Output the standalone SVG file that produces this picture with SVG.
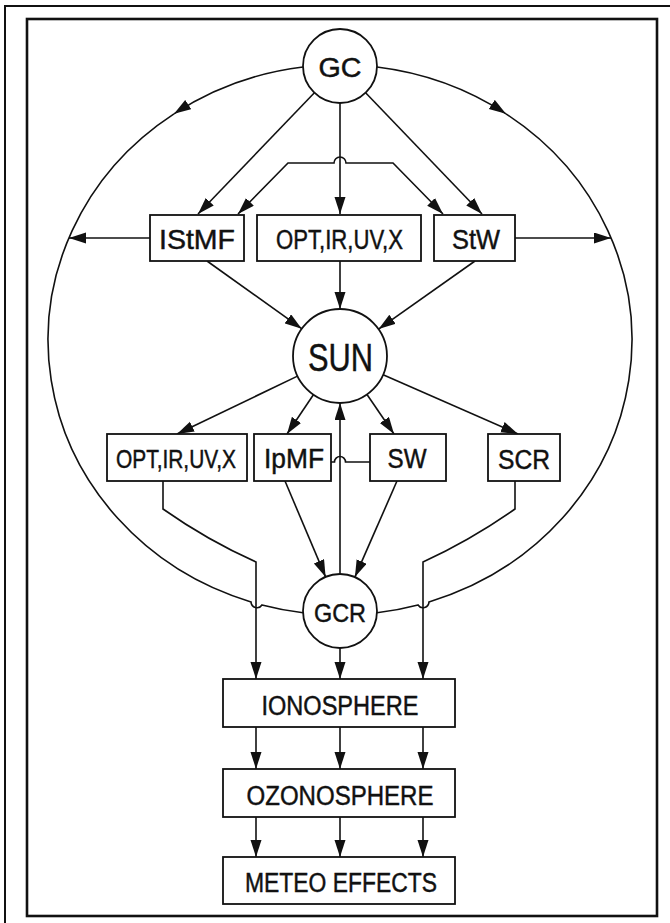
<svg xmlns="http://www.w3.org/2000/svg" width="670" height="923" viewBox="0 0 670 923">
  <defs>
    <marker id="ah" markerUnits="userSpaceOnUse" markerWidth="18" markerHeight="12" refX="17" refY="5.5" orient="auto-start-reverse">
      <path d="M0,0 L17,5.5 L0,11 Z" fill="#111"/>
    </marker>
    <style>
      .frame { fill: none; stroke: #111; }
      .box { fill: #fff; stroke: #111; stroke-width: 1.8; }
      .node { fill: #fff; stroke: #111; stroke-width: 1.8; }
      .ln { fill: none; stroke: #111; stroke-width: 1.6; }
      .arr { fill: none; stroke: #111; stroke-width: 1.6; marker-end: url(#ah); }
      .lbl { font-family: "Liberation Sans", Arial, sans-serif; text-anchor: middle; fill: #111; stroke: #111; stroke-width: 0.45; }
    </style>
  </defs>

  <rect width="670" height="923" fill="#fff"/>

  <!-- double frame -->
  <rect class="frame" x="5" y="6" width="690" height="940" stroke-width="2"/>
  <rect class="frame" x="27" y="19" width="630" height="897" stroke-width="2.6"/>

  <!-- connectors -->
  <g id="connectors">
    <!-- outer loop GC -> GCR, left and right halves -->
    <path class="arr" d="M303,67 A292,275 0 0 0 174,113.8"/>
    <path class="ln" d="M174,113.8 A292,275 0 0 0 251,601.9 A6,6 0 0 0 262,605 A292,275 0 0 0 303,612.8"/>
    <path class="arr" d="M377,67 A292,275 0 0 1 506,113.8"/>
    <path class="ln" d="M506,113.8 A292,275 0 0 1 429,601.9 A6,6 0 0 1 418,605 A292,275 0 0 1 377,612.8"/>

    <!-- side outputs -->
    <path class="arr" d="M150,238 H69"/>
    <path class="arr" d="M515,238 H611"/>

    <!-- GC to upper row -->
    <path class="arr" d="M314.4,92.7 L198,214"/>
    <path class="arr" d="M340,103 V214"/>
    <path class="arr" d="M365.6,92.7 L482,214"/>
    <path class="ln" d="M238,214 L288,163 H334 A6,6 0 0 1 346,163 H393 L443,214" marker-start="url(#ah)" marker-end="url(#ah)"/>

    <!-- upper row to SUN -->
    <path class="arr" d="M207,261 L301.7,328.7"/>
    <path class="arr" d="M340,261 V309"/>
    <path class="arr" d="M475,261 L378.6,329.1"/>

    <!-- SUN to lower row -->
    <path class="arr" d="M297.5,376.1 L177,434"/>
    <path class="arr" d="M313.4,394.7 L287,434"/>
    <path class="arr" d="M367,394.5 L394,434"/>
    <path class="arr" d="M383.1,374.7 L518,434"/>

    <!-- GCR back to SUN -->
    <path class="arr" d="M340,574 V403"/>

    <!-- IpMF - SW link with hop -->
    <path class="ln" d="M331,462 H334.5 A5.5,5.5 0 0 1 345.5,462 H370"/>

    <!-- lower row to GCR -->
    <path class="arr" d="M285,481 L325.6,576.9"/>
    <path class="arr" d="M397,481 L354.9,577.1"/>

    <!-- into the ionosphere -->
    <path class="arr" d="M163,481 V509 Q207,540 256,562 V679"/>
    <path class="arr" d="M515,481 V509 Q471,540 423,562 V679"/>
    <path class="arr" d="M340,648 V679"/>

    <!-- ionosphere -> ozonosphere -> meteo -->
    <path class="arr" d="M256,727 V769"/>
    <path class="arr" d="M340,727 V769"/>
    <path class="arr" d="M423,727 V769"/>
    <path class="arr" d="M256,817 V857"/>
    <path class="arr" d="M340,817 V857"/>
    <path class="arr" d="M423,817 V857"/>
  </g>

  <!-- nodes -->
  <g id="gc">
    <circle class="node" cx="340" cy="66" r="37"/>
    <text class="lbl" x="340" y="77" font-size="28" textLength="43" lengthAdjust="spacingAndGlyphs">GC</text>
  </g>

  <g id="istmf">
    <rect class="box" x="150" y="215" width="94" height="46"/>
    <text class="lbl" x="197" y="249" font-size="28" textLength="76" lengthAdjust="spacingAndGlyphs">IStMF</text>
  </g>
  <g id="opt-upper">
    <rect class="box" x="257" y="215" width="164" height="46"/>
    <text class="lbl" x="339.5" y="249" font-size="27" textLength="127" lengthAdjust="spacingAndGlyphs">OPT,IR,UV,X</text>
  </g>
  <g id="stw">
    <rect class="box" x="434" y="215" width="81" height="46"/>
    <text class="lbl" x="476" y="249" font-size="28" textLength="48" lengthAdjust="spacingAndGlyphs">StW</text>
  </g>

  <g id="sun">
    <circle class="node" cx="340" cy="356" r="47"/>
    <text class="lbl" x="340.5" y="371" font-size="38" textLength="65" lengthAdjust="spacingAndGlyphs">SUN</text>
  </g>

  <g id="opt-lower">
    <rect class="box" x="107" y="434" width="140" height="47"/>
    <text class="lbl" x="176" y="468" font-size="25" textLength="120" lengthAdjust="spacingAndGlyphs">OPT,IR,UV,X</text>
  </g>
  <g id="ipmf">
    <rect class="box" x="254" y="434" width="77" height="47"/>
    <text class="lbl" x="294" y="468" font-size="27" textLength="60" lengthAdjust="spacingAndGlyphs">IpMF</text>
  </g>
  <g id="sw">
    <rect class="box" x="370" y="434" width="76" height="47"/>
    <text class="lbl" x="407" y="468" font-size="27" textLength="39" lengthAdjust="spacingAndGlyphs">SW</text>
  </g>
  <g id="scr">
    <rect class="box" x="488" y="434" width="72" height="47"/>
    <text class="lbl" x="524" y="469" font-size="27" textLength="52" lengthAdjust="spacingAndGlyphs">SCR</text>
  </g>

  <g id="gcr">
    <circle class="node" cx="340" cy="611" r="37"/>
    <text class="lbl" x="340" y="622" font-size="26" textLength="52" lengthAdjust="spacingAndGlyphs">GCR</text>
  </g>

  <g id="ionosphere">
    <rect class="box" x="223" y="679" width="232" height="48"/>
    <text class="lbl" x="340" y="715" font-size="27" textLength="157" lengthAdjust="spacingAndGlyphs">IONOSPHERE</text>
  </g>
  <g id="ozonosphere">
    <rect class="box" x="223" y="769" width="232" height="48"/>
    <text class="lbl" x="340" y="805" font-size="27" textLength="187" lengthAdjust="spacingAndGlyphs">OZONOSPHERE</text>
  </g>
  <g id="meteo">
    <rect class="box" x="223" y="857" width="232" height="47"/>
    <text class="lbl" x="341" y="892" font-size="27" textLength="192" lengthAdjust="spacingAndGlyphs">METEO EFFECTS</text>
  </g>
</svg>
